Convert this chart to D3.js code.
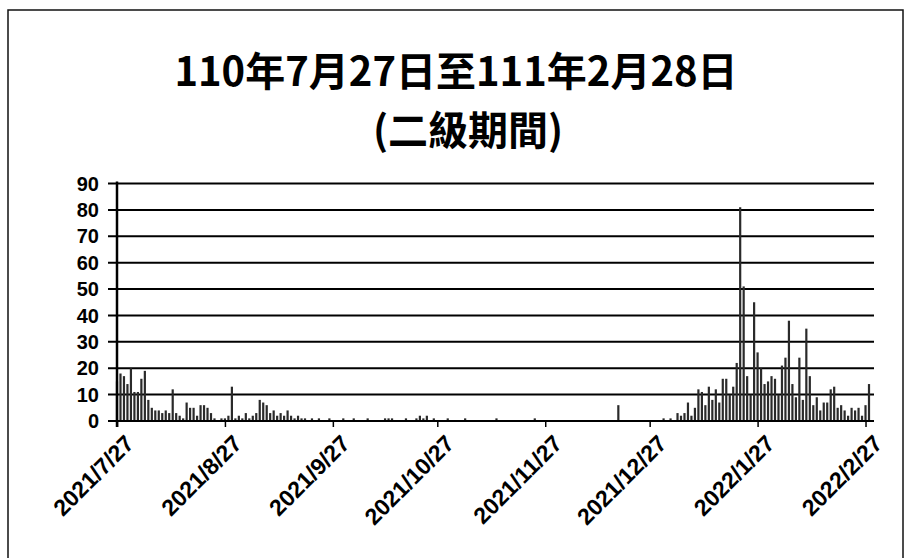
<!DOCTYPE html>
<html>
<head>
<meta charset="utf-8">
<script src="https://cdn.jsdelivr.net/npm/d3@7"></script>
<style>
  html, body { margin: 0; padding: 0; background: #fff; }
  svg { display: block; }
</style>
</head>
<body>
<div id="chart"></div>
<script>
// daily counts, 2021/7/27 .. 2022/2/28, one array per month
const startDate = new Date(2021, 6, 27);
const jul = [15, 18, 17, 14, 20];
const aug = [11, 11, 16, 19, 8, 5, 4, 4, 3, 4, 3, 12, 3, 2, 1, 7, 5, 5, 2, 6, 6, 5, 3, 1, 0, 1, 1, 2, 13, 1, 2];
const sep = [1, 3, 1, 2, 3, 8, 7, 6, 3, 4, 2, 3, 2, 4, 2, 1, 2, 1, 1, 0, 1, 0, 1, 0, 0, 1, 0, 0, 0, 1];
const oct = [0, 0, 1, 0, 0, 0, 1, 0, 0, 0, 0, 1, 1, 1, 0, 0, 0, 1, 0, 0, 1, 2, 1, 2, 0, 1, 0, 0, 0, 1, 0];
const nov = [0, 0, 0, 1, 0, 0, 0, 0, 0, 0, 0, 0, 1, 0, 0, 0, 0, 0, 0, 0, 0, 0, 0, 1, 0, 0, 0, 0, 0, 0];
const dec = [0, 0, 0, 0, 0, 0, 0, 0, 0, 0, 0, 0, 0, 0, 0, 0, 0, 6, 0, 0, 0, 0, 0, 0, 0, 0, 0, 0, 0, 0, 1];
const jan = [0, 1, 0, 3, 2, 3, 7, 2, 5, 12, 11, 6, 13, 8, 12, 7, 16, 16, 10, 13, 22, 81, 51, 17, 10, 45, 26, 20, 14, 15, 17];
const feb = [16, 10, 21, 24, 38, 14, 9, 24, 8, 35, 17, 6, 9, 4, 7, 7, 12, 13, 5, 6, 4, 2, 5, 4, 5, 2, 6, 14];
const yTicks = [0, 10, 20, 30, 40, 50, 60, 70, 80, 90];
const xTickDates = [
  new Date(2021, 6, 27), new Date(2021, 7, 27), new Date(2021, 8, 27), new Date(2021, 9, 27),
  new Date(2021, 10, 27), new Date(2021, 11, 27), new Date(2022, 0, 27), new Date(2022, 1, 27)
];
const titleLines = ['110年7月27日至111年2月28日', '(二級期間)'];

const values = [].concat(jul, aug, sep, oct, nov, dec, jan, feb);
const data = values.map((v, i) => ({date: d3.timeDay.offset(startDate, i), value: v}));

const W = 907, H = 558;
const svg = d3.select('#chart').append('svg')
  .attr('width', W)
  .attr('height', H);

// frame
svg.append('rect')
  .attr('x', 8).attr('y', 10)
  .attr('width', 895).attr('height', 600)
  .attr('fill', 'none')
  .attr('stroke', '#111')
  .attr('stroke-width', 1.5);

// title
svg.selectAll('text.title')
  .data(titleLines)
  .join('text')
  .attr('class', 'title')
  .attr('x', (d, i) => i ? 468 : 456)
  .attr('y', (d, i) => i ? 145 : 86)
  .attr('text-anchor', 'middle')
  .attr('font-family', '"Noto Sans CJK TC", sans-serif')
  .attr('font-weight', 'bold')
  .attr('font-size', 40)
  .attr('fill', '#000')
  .text(d => d);

const x = d3.scaleTime()
  .domain([startDate, new Date(2022, 1, 28)])
  .range([117, 869]);
const y = d3.scaleLinear()
  .domain([0, 90])
  .range([421, 183.5]);

// gridlines
svg.append('g')
  .selectAll('line')
  .data(yTicks)
  .join('line')
  .attr('x1', 108).attr('x2', 874)
  .attr('y1', d => y(d)).attr('y2', d => y(d))
  .attr('stroke', '#000')
  .attr('stroke-width', 2);

// y labels
svg.append('g')
  .selectAll('text')
  .data(yTicks)
  .join('text')
  .attr('x', 99)
  .attr('y', d => y(d))
  .attr('dy', '0.36em')
  .attr('text-anchor', 'end')
  .attr('font-family', '"Liberation Sans", Arial, sans-serif')
  .attr('font-weight', 'bold')
  .attr('font-size', 20)
  .attr('fill', '#000')
  .text(d => d);

// bars
const barW = 2.2;
svg.append('g')
  .selectAll('rect')
  .data(data.filter(d => d.value > 0))
  .join('rect')
  .attr('x', d => x(d.date) - barW / 2)
  .attr('y', d => y(d.value))
  .attr('width', barW)
  .attr('height', d => y(0) - y(d.value))
  .attr('fill', '#2a2a2a');

// y axis line
svg.append('line')
  .attr('x1', 117).attr('x2', 117)
  .attr('y1', y(90) - 2).attr('y2', y(0) + 6)
  .attr('stroke', '#000')
  .attr('stroke-width', 2.5);

// x axis
const xAxis = svg.append('g')
  .attr('transform', `translate(0,${y(0)})`)
  .call(d3.axisBottom(x)
    .tickValues(xTickDates)
    .tickFormat(d3.timeFormat('%Y/%-m/%-d'))
    .tickSize(6)
    .tickPadding(6));
xAxis.select('.domain')
  .attr('d', 'M108,0H874')
  .attr('stroke', '#000')
  .attr('stroke-width', 2);
xAxis.selectAll('.tick line')
  .attr('stroke', '#000')
  .attr('stroke-width', 1.5);
xAxis.selectAll('.tick text')
  .attr('font-family', '"Liberation Sans", Arial, sans-serif')
  .attr('font-weight', 'bold')
  .attr('font-size', 23)
  .attr('fill', '#000')
  .attr('text-anchor', 'end')
  .attr('dy', '0.7em')
  .attr('transform', 'translate(-2,4) rotate(-45)');
</script>
</body>
</html>
